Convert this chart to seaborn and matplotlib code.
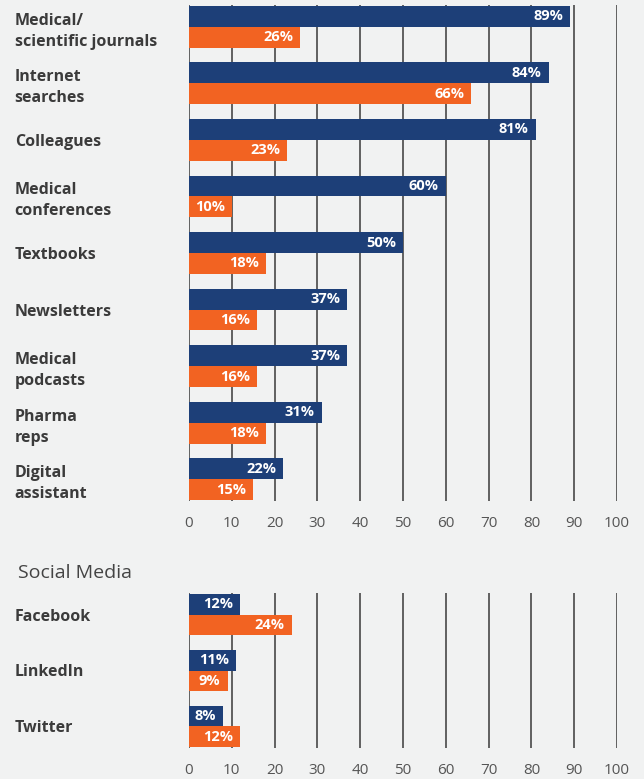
import matplotlib
matplotlib.use("Agg")
import matplotlib.pyplot as plt
import seaborn as sns
import pandas as pd

# Information sources (main panel)
sources = ["Medical/\nscientific journals", "Internet\nsearches", "Colleagues",
           "Medical\nconferences", "Textbooks", "Newsletters", "Medical\npodcasts",
           "Pharma\nreps", "Digital\nassistant"]
use_pct = [89, 84, 81, 60, 50, 37, 37, 31, 22]
trust_pct = [26, 66, 23, 10, 18, 16, 16, 18, 15]

# Social media panel
social = ["Facebook", "LinkedIn", "Twitter"]
social_use_pct = [12, 11, 8]
social_trust_pct = [24, 9, 12]

x_ticks = list(range(0, 101, 10))

NAVY = "#1d3f78"
ORANGE = "#f26322"
BG = "#f1f2f2"
GRID = "#555555"
TEXT = "#3b3b3b"

sns.set_theme(style="white")
plt.rcParams["font.family"] = ["Open Sans", "DejaVu Sans"]


def long_frame(cats, a, b):
    return pd.DataFrame({
        "category": cats * 2,
        "value": a + b,
        "series": ["Use"] * len(cats) + ["Trust"] * len(cats),
    })


fig = plt.figure(figsize=(6.44, 7.79), dpi=100, facecolor=BG)
W, H = 644, 779
left, width = 189 / W, 428 / W
ax_top = fig.add_axes([left, (H - 501) / H, width, 496 / H])
ax_bot = fig.add_axes([left, (H - 748) / H, width, 155 / H])


def draw(ax, cats, a, b):
    df = long_frame(cats, a, b)
    sns.barplot(data=df, y="category", x="value", hue="series",
                palette=[NAVY, ORANGE], width=0.74, dodge=True,
                legend=False, ax=ax, saturation=1, linewidth=0, zorder=3)
    ax.set_facecolor(BG)
    ax.set_xlim(0, 100)
    n = len(cats)
    ax.set_ylim(n - 1 + 0.385, -0.385)
    ax.set_xticks(x_ticks)
    ax.set_xticklabels([str(t) for t in x_ticks], color="#555555", fontsize=11)
    ax.grid(axis="x", color=GRID, linewidth=1.3, zorder=0)
    ax.grid(axis="y", visible=False)
    ax.set_axisbelow(True)
    for s in ax.spines.values():
        s.set_visible(False)
    ax.tick_params(axis="x", length=0, pad=10.5)
    ax.tick_params(axis="y", length=0, pad=125.5)
    ax.set_xlabel("")
    ax.set_ylabel("")
    for lab in ax.get_yticklabels():
        lab.set_ha("left")
        lab.set_fontweight("bold")
        lab.set_fontsize(11.5)
        lab.set_color(TEXT)
        lab.set_linespacing(1.42)
    for cont in ax.containers:
        texts = ax.bar_label(cont, labels=[f"{v:.0f}%" for v in cont.datavalues],
                             padding=-5, color="white", fontsize=10.5,
                             fontweight="bold")
        for t in texts:
            t.set_ha("right")


draw(ax_top, sources, use_pct, trust_pct)
draw(ax_bot, social, social_use_pct, social_trust_pct)

fig.text(18 / W, 1 - 573 / H, "Social Media", fontsize=14, color="#444444",
         va="center", ha="left")

fig.savefig("out.png", dpi=100, facecolor=BG)
